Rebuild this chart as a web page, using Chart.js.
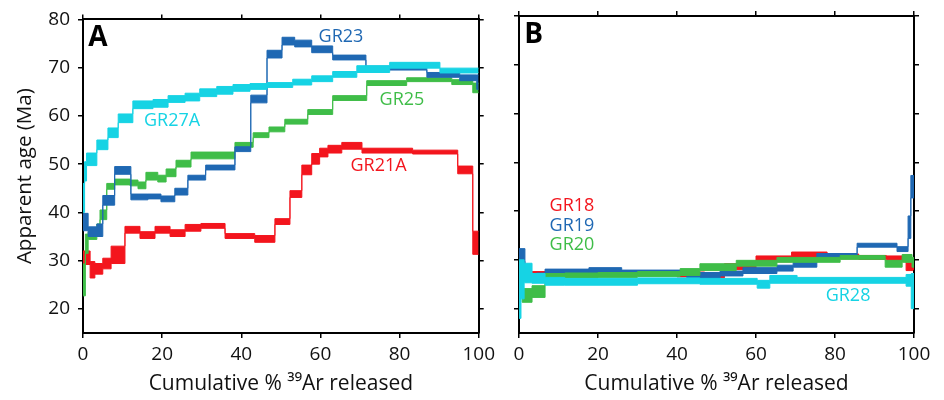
<!DOCTYPE html>
<html>
<head>
<meta charset="utf-8">
<script src="https://cdn.jsdelivr.net/npm/chart.js@4.4.1/dist/chart.umd.min.js"></script>
<style>
  body { margin: 0; background: #fff; }
  #wrap { position: relative; width: 944px; height: 400px; }
  #chartA { position: absolute; left: 0; top: 0; }
  #chartB { position: absolute; left: 495px; top: 0; }
</style>
</head>
<body>
<div id="wrap">
  <canvas id="chartA" width="500" height="400"></canvas>
  <canvas id="chartB" width="449" height="400"></canvas>
</div>
<script>
// axis ticks
const xTicks = [0, 20, 40, 60, 80, 100];
const yTicks = [20, 30, 40, 50, 60, 70, 80];

// colours
const RED = '#f3151d';
const BLUE = '#1f68b3';
const CYAN = '#16d3e4';
const GREEN = '#3fbd48';

// panel A - step boundaries (cumulative % 39Ar), ages (Ma), errors (Ma)
const gr27aX = [0, 0.4, 0.9, 3.5, 6.3, 8.9, 12.6, 17.7, 21.5, 25.8, 29.5, 33.8, 37.9, 42.2, 46.5, 53, 57.8, 63.1, 69.2, 77.5, 90.2, 100];
const gr27aAge = [43, 48.5, 51, 54, 56.5, 59.5, 62.3, 62.6, 63.5, 63.9, 64.8, 65.3, 65.8, 66.1, 66.4, 67, 67.7, 68.6, 69.7, 70.5, 69.4];
const gr27aErr = [3, 2, 1.3, 1, 1, 0.9, 0.8, 0.8, 0.7, 0.8, 0.8, 0.8, 0.7, 0.6, 0.5, 0.6, 0.6, 0.6, 0.7, 0.6, 0.5];

const gr23X = [0, 1.3, 3.5, 5, 8, 12.1, 16.4, 19.7, 23.2, 26.5, 31, 38.4, 42.4, 46.5, 50.3, 53.5, 57.8, 63.1, 71.5, 86.9, 95.2, 99.5, 100];
const gr23Age = [38, 36, 36.3, 42.5, 48.7, 43.2, 43.3, 42.8, 44.3, 47.2, 49.3, 53.1, 63.5, 72.8, 75.5, 75, 73.8, 72.1, 69.9, 68.5, 67.9, 67];
const gr23Err = [1.8, 1, 1.3, 1, 0.8, 0.6, 0.5, 0.6, 0.7, 0.5, 0.5, 0.5, 0.8, 0.8, 0.8, 0.7, 0.7, 0.5, 0.4, 0.5, 0.6, 1.5];

const gr25X = [0, 0.6, 1.3, 3.5, 4.3, 6, 8, 11.9, 13.9, 15.9, 18.9, 21, 23.5, 27.3, 38.4, 43, 47, 51, 56.8, 63.1, 71.7, 81.8, 93.2, 98.5, 100];
const gr25Age = [26, 33.5, 35.2, 36.5, 39.5, 45.4, 46.3, 46.1, 45.6, 47.5, 47, 48.2, 50.1, 51.8, 54, 56, 57.2, 58.8, 60.8, 63.7, 66.8, 67.5, 67, 65.8];
const gr25Err = [3.3, 2, 0.8, 1.1, 1, 0.6, 0.6, 0.6, 0.7, 0.8, 0.7, 0.8, 0.7, 0.7, 0.5, 0.5, 0.5, 0.5, 0.5, 0.5, 0.5, 0.4, 0.5, 1];

const gr21aX = [0, 1.8, 3, 5, 7.1, 10.6, 14.4, 18.2, 22, 25.8, 29.8, 35.9, 43.4, 48.5, 52.3, 55.3, 57.8, 59.8, 61.9, 65.4, 70.5, 83.3, 94.7, 98.5, 100];
const gr21aAge = [30.6, 28.1, 28.3, 29.4, 31.2, 36.4, 35.3, 36.4, 35.7, 36.8, 37.2, 35.1, 34.5, 38.1, 43.8, 48.8, 51.1, 52.4, 53.1, 53.8, 52.8, 52.5, 48.8, 33.7];
const gr21aErr = [1.4, 1.7, 1.1, 1.1, 1.8, 0.7, 0.7, 0.7, 0.7, 0.7, 0.5, 0.5, 0.7, 0.6, 0.7, 1, 1.1, 0.9, 0.8, 0.7, 0.5, 0.4, 0.8, 2.4];

// panel B
const gr28X = [0, 0.5, 1.3, 3.3, 6.6, 11.6, 30, 45.8, 60.3, 63.5, 70.4, 98, 99.3, 100];
const gr28Age = [24, 26, 27.3, 26.2, 25.6, 25.5, 25.7, 25.6, 25, 26, 25.8, 25.8, 23.6];
const gr28Err = [6, 4, 2, 1, 0.8, 0.7, 0.6, 0.6, 0.8, 0.8, 0.6, 1.2, 3.6];

const gr20X = [0, 0.8, 3.3, 6.6, 11.6, 20, 30, 40.8, 45.8, 55, 65.3, 81.3, 92.7, 97, 99.5, 100];
const gr20Age = [26, 22.7, 23.5, 26.7, 26.8, 26.9, 27.1, 27.5, 28.5, 29.3, 30, 30.5, 29.2, 30.3, 29.5];
const gr20Err = [3, 1.4, 1.2, 0.5, 0.5, 0.5, 0.5, 0.7, 0.7, 0.6, 0.5, 0.4, 0.7, 0.8, 1];

const gr18X = [0, 1, 3, 7, 15, 25, 40, 47, 52, 60, 69, 78, 86, 93, 98, 99.7, 100];
const gr18Age = [27, 28, 27, 27.5, 27.2, 27.3, 27, 26.8, 28.6, 30.2, 31, 30.7, 30.5, 30.3, 28.6, 29];
const gr18Err = [2, 0.8, 0.6, 0.5, 0.5, 0.4, 0.5, 0.5, 0.6, 0.6, 0.6, 0.5, 0.4, 0.5, 0.8, 1];

const gr19X = [0, 1.5, 2.3, 4.5, 6.6, 17.7, 26, 42.5, 45.8, 50.9, 56.7, 65.3, 69.4, 75.4, 85.6, 95.7, 98.5, 99.2, 100];
const gr19Age = [31, 27.8, 26.4, 26.8, 27.6, 27.9, 27.4, 26.4, 26.8, 27.2, 27.8, 28.3, 29, 30.8, 33, 32.2, 36.7, 45];
const gr19Err = [1.3, 0.6, 0.5, 0.5, 0.5, 0.5, 0.5, 0.4, 0.6, 0.5, 0.6, 0.6, 0.5, 0.5, 0.4, 0.5, 2.3, 2.3];

// upper or lower edge of an age spectrum as step points
function edge(xs, ages, errs, sign) {
    let pts = ages.map((a, i) => ({ x: xs[i], y: a + sign * errs[i] }));
    let n = ages.length - 1;
    pts.push({ x: xs[xs.length - 1], y: ages[n] + sign * errs[n] });
    return pts;
}

function spectrum(xs, ages, errs, color) {
    return [
        { data: edge(xs, ages, errs, 1), borderColor: color, borderWidth: 1, stepped: true, pointRadius: 0, fill: false },
        { data: edge(xs, ages, errs, -1), borderColor: color, borderWidth: 1, stepped: true, pointRadius: 0, fill: '-1', backgroundColor: color },
    ];
}

const textLabels = {
    id: 'textLabels',
    afterDatasetsDraw(chart, args, opts) {
        const { ctx, scales } = chart;
        ctx.save();
        ctx.textBaseline = 'middle';
        opts.items.forEach(l => {
            ctx.font = l.font;
            ctx.fillStyle = l.color;
            ctx.textAlign = l.align;
            ctx.fillText(l.text, scales.x.getPixelForValue(l.x), scales.y.getPixelForValue(l.y));
        });
        ctx.restore();
    }
};

Chart.defaults.font.family = "'Open Sans', sans-serif";
Chart.defaults.color = '#111';

function axes(sizes, showY) {
    const grid = { drawOnChartArea: false, color: '#000', lineWidth: 1.5, tickLength: 5 };
    const border = { display: true, color: '#000', width: 2 };
    const setY = s => { s.ticks = yTicks.map(v => ({ value: v })); };
    return {
        x: {
            type: 'linear', position: 'bottom', min: 0, max: 100,
            afterBuildTicks: s => { s.ticks = xTicks.map(v => ({ value: v })); },
            afterFit: s => { s.height = sizes.bottom; },
            ticks: { font: { size: 19 }, padding: 5, color: '#111' },
            grid, border,
            title: { display: true, text: 'Cumulative % \u00b3\u2079Ar released', font: { size: 21 }, color: '#111', padding: { top: 0, bottom: 3 } },
        },
        x2: {
            type: 'linear', position: 'top', min: 0, max: 100,
            afterBuildTicks: s => { s.ticks = xTicks.map(v => ({ value: v })); },
            afterFit: s => { s.height = sizes.top; },
            ticks: { display: false },
            grid, border,
        },
        y: {
            type: 'linear', position: 'left', min: 15, max: 80,
            afterBuildTicks: setY,
            afterFit: s => { s.width = sizes.left; },
            ticks: { display: showY, font: { size: 19 }, padding: 8, color: '#111' },
            grid, border,
            title: { display: showY, text: 'Apparent age (Ma)', font: { size: 20.5 }, color: '#111', padding: { top: 13, bottom: 0 } },
        },
        y2: {
            type: 'linear', position: 'right', min: 15, max: 80,
            afterBuildTicks: setY,
            afterFit: s => { s.width = sizes.right; },
            ticks: { display: false },
            grid, border,
        },
    };
}

function makeChart(id, datasets, sizes, showY, items) {
    return new Chart(document.getElementById(id), {
        type: 'line',
        data: { datasets },
        options: {
            responsive: false,
            animation: false,
            devicePixelRatio: 1,
            layout: { padding: 0 },
            scales: axes(sizes, showY),
            plugins: {
                legend: { display: false },
                tooltip: { enabled: false },
                textLabels: { items },
            },
        },
        plugins: [textLabels],
    });
}

const labelFont = "18px 'Open Sans', sans-serif";
const panelFont = "bold 28px 'Open Sans', sans-serif";

makeChart('chartA', [
    ...spectrum(gr27aX, gr27aAge, gr27aErr, CYAN),
    ...spectrum(gr23X, gr23Age, gr23Err, BLUE),
    ...spectrum(gr25X, gr25Age, gr25Err, GREEN),
    ...spectrum(gr21aX, gr21aAge, gr21aErr, RED),
], { left: 83, right: 21, top: 16, bottom: 67 }, true, [
    { text: 'A', x: 1.3, y: 76.1, color: '#000', font: panelFont, align: 'left' },
    { text: 'GR23', x: 65.2, y: 76.3, color: BLUE, font: labelFont, align: 'center' },
    { text: 'GR25', x: 80.6, y: 63.4, color: GREEN, font: labelFont, align: 'center' },
    { text: 'GR27A', x: 22.5, y: 58.9, color: CYAN, font: labelFont, align: 'center' },
    { text: 'GR21A', x: 74.7, y: 49.6, color: RED, font: labelFont, align: 'center' },
]);

makeChart('chartB', [
    ...spectrum(gr28X, gr28Age, gr28Err, CYAN),
    ...spectrum(gr20X, gr20Age, gr20Err, GREEN),
    ...spectrum(gr19X, gr19Age, gr19Err, BLUE),
    ...spectrum(gr18X, gr18Age, gr18Err, RED),
], { left: 24, right: 30, top: 16, bottom: 67 }, false, [
    { text: 'B', x: 1.3, y: 76.1, color: '#000', font: panelFont, align: 'left' },
    { text: 'GR18', x: 13.4, y: 41, color: RED, font: labelFont, align: 'center' },
    { text: 'GR19', x: 13.4, y: 36.9, color: BLUE, font: labelFont, align: 'center' },
    { text: 'GR20', x: 13.4, y: 33, color: GREEN, font: labelFont, align: 'center' },
    { text: 'GR28', x: 83.3, y: 22.7, color: CYAN, font: labelFont, align: 'center' },
]);
</script>
</body>
</html>
